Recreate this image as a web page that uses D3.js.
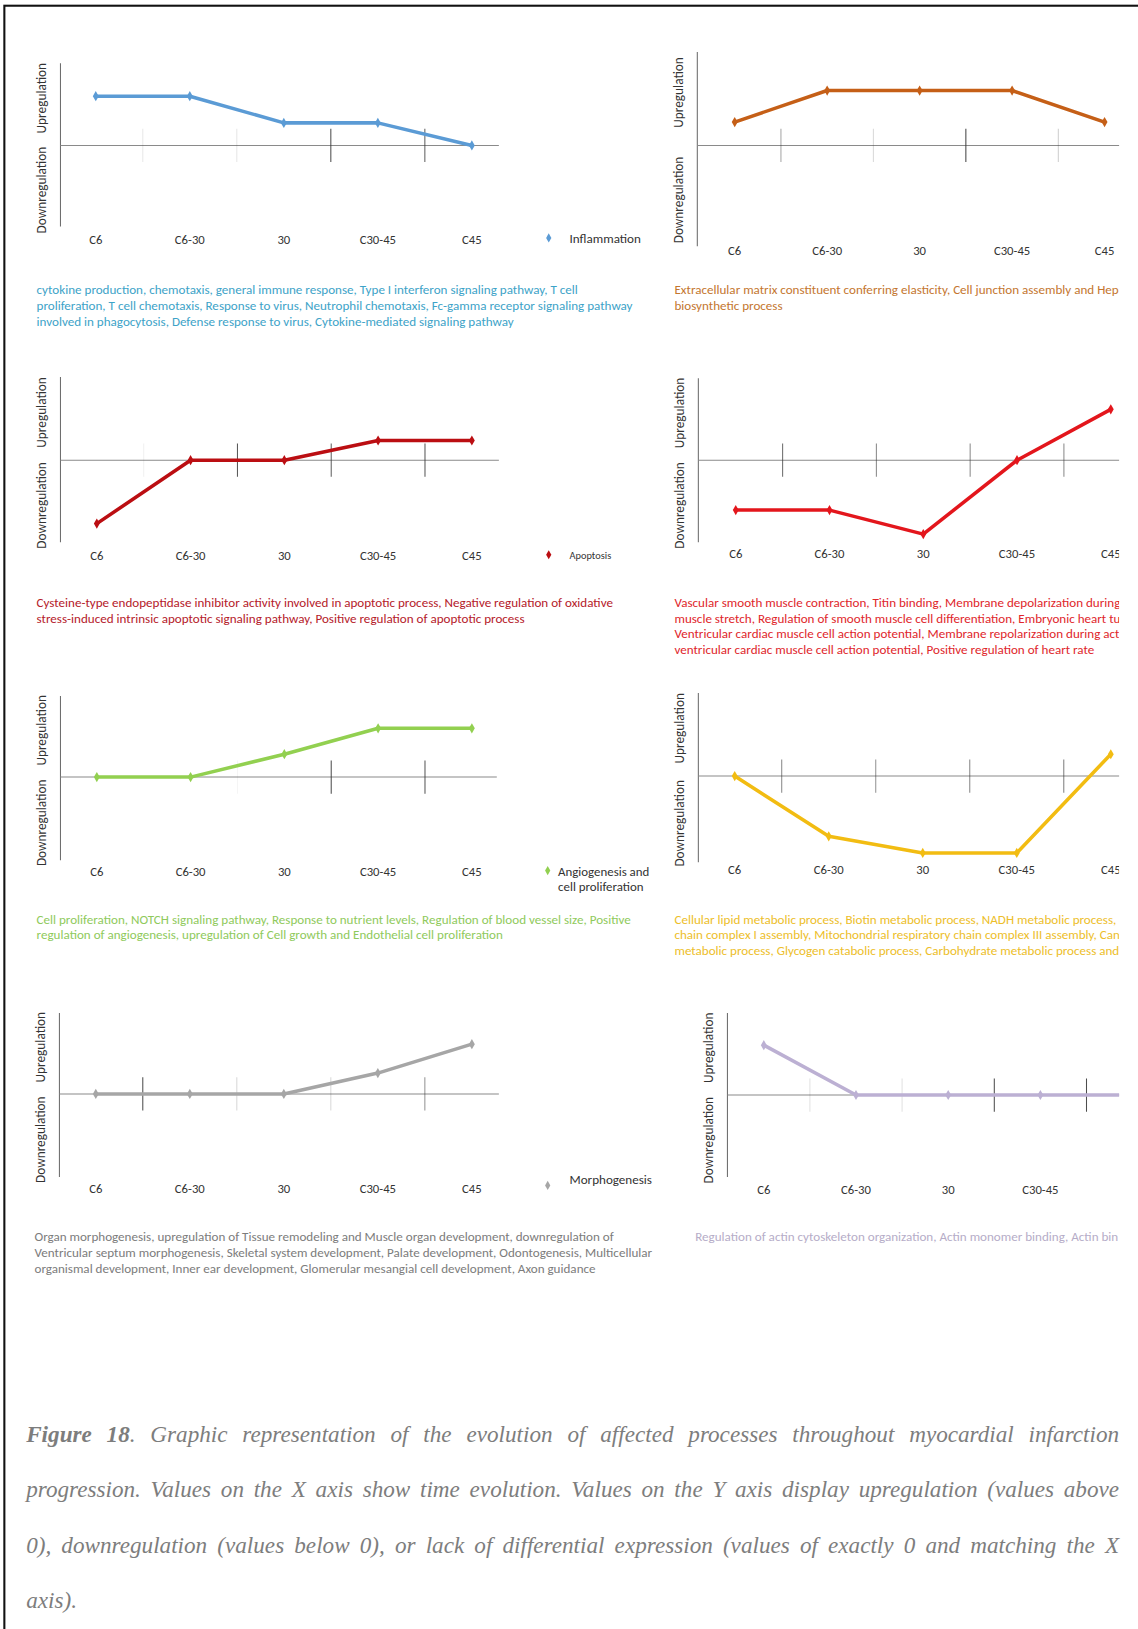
<!DOCTYPE html>
<html>
<head>
<meta charset="utf-8">
<script src="https://cdn.jsdelivr.net/npm/d3@7"></script>
<style>
  body { margin: 0; background: #fff; }
  svg { display: block; }
</style>
</head>
<body>
<svg id="fig"></svg>
<script>
// ---- data -------------------------------------------------------------
const categories = ["C6", "C6-30", "30", "C30-45", "C45"];

// relative regulation level per time point (positive = up, negative = down)
const inflammation  = [2.4, 2.4, 1.1, 1.1, 0];
const extracellular = [1.0, 2.35, 2.35, 2.35, 1.0];
const apoptosis     = [-3.05, 0, 0, 0.95, 0.95];
const cardiac       = [-2.43, -2.43, -3.6, 0, 2.48];
const angiogenesis  = [0, 0, 1.13, 2.41, 2.41];
const metabolism    = [0, -2.9, -3.7, -3.7, 1.05];
const morphogenesis = [0, 0, 0, 1.03, 2.46];
const cytoskeleton  = [2.43, 0, 0, 0, 0];

const legendInflammation  = ["Inflammation"];
const legendApoptosis     = ["Apoptosis"];
const legendAngiogenesis  = ["Angiogenesis and", "cell proliferation"];
const legendMorphogenesis = ["Morphogenesis"];

const yLabelUp = "Upregulation";
const yLabelDown = "Downregulation";

const descInflammation = [
  "cytokine production, chemotaxis, general immune response, Type I interferon signaling pathway, T cell",
  "proliferation, T cell chemotaxis, Response to virus, Neutrophil chemotaxis, Fc-gamma receptor signaling pathway",
  "involved in phagocytosis, Defense response to virus, Cytokine-mediated signaling pathway"
];
const descExtracellular = [
  "Extracellular matrix constituent conferring elasticity, Cell junction assembly and Hep",
  "biosynthetic process"
];
const descApoptosis = [
  "Cysteine-type endopeptidase inhibitor activity involved in apoptotic process, Negative regulation of oxidative",
  "stress-induced intrinsic apoptotic signaling pathway, Positive regulation of apoptotic process"
];
const descCardiac = [
  "Vascular smooth muscle contraction, Titin binding, Membrane depolarization during",
  "muscle stretch, Regulation of smooth muscle cell differentiation, Embryonic heart tu",
  "Ventricular cardiac muscle cell action potential, Membrane repolarization during act",
  "ventricular cardiac muscle cell action potential, Positive regulation of heart rate"
];
const descAngiogenesis = [
  "Cell proliferation, NOTCH signaling pathway, Response to nutrient levels, Regulation of blood vessel size, Positive",
  "regulation of angiogenesis, upregulation of Cell growth and Endothelial cell proliferation"
];
const descMetabolism = [
  "Cellular lipid metabolic process, Biotin metabolic process, NADH metabolic process,",
  "chain complex I assembly, Mitochondrial respiratory chain complex III assembly, Can",
  "metabolic process, Glycogen catabolic process, Carbohydrate metabolic process and"
];
const descMorphogenesis = [
  "Organ morphogenesis, upregulation of Tissue remodeling and Muscle organ development, downregulation of",
  "Ventricular septum morphogenesis, Skeletal system development, Palate development, Odontogenesis, Multicellular",
  "organismal development, Inner ear development, Glomerular mesangial cell development, Axon guidance"
];
const descCytoskeleton = [
  "Regulation of actin cytoskeleton organization, Actin monomer binding, Actin bin"
];

const captionLines = [
  "Figure 18. Graphic representation of the evolution of affected processes throughout myocardial infarction",
  "progression. Values on the X axis show time evolution. Values on the Y axis display upregulation (values above",
  "0), downregulation (values below 0), or lack of differential expression (values of exactly 0 and matching the X",
  "axis)."
];
const captionBoldWords = ["Figure", "18"];

// ---- layout (drawing units; the svg viewBox is 1095 x 1568) -------------
const W = 1095, H = 1568;
const CLIP_RIGHT = 1077;
const panels = [
  { values: inflammation, color: "#5b9bd5", text: "#3da3c8", side: "L",
    axisX: 58, top: 61, zero: 140, bottom: 218, x0: 92, x1: 454, zeroEnd: 480, labelY: 232,
    ticks: [0.12, 0.12, 0.9, 0.8], legend: legendInflammation, legendPos: [528, 229, 548, 12.6],
    desc: descInflammation, descX: 35, descY: 280 },
  { values: extracellular, color: "#c55f17", text: "#c4762f", side: "R",
    axisX: 671, top: 50, zero: 140, bottom: 237, x0: 707, x1: 1063, zeroEnd: 1090, labelY: 243,
    ticks: [0.45, 0.2, 0.95, 0.25], legend: null,
    desc: descExtracellular, descX: 649, descY: 280 },
  { values: apoptosis, color: "#bb0e12", text: "#b5202a", side: "L",
    axisX: 58, top: 363, zero: 443, bottom: 522, x0: 93, x1: 454, zeroEnd: 480, labelY: 536,
    ticks: [0.08, 0.85, 0.8, 0.85], legend: legendApoptosis, legendPos: [528, 534, 548, 10],
    desc: descApoptosis, descX: 35, descY: 581 },
  { values: cardiac, color: "#e3161c", text: "#e0262b", side: "R",
    axisX: 672, top: 364, zero: 443, bottom: 522, x0: 708, x1: 1069, zeroEnd: 1090, labelY: 534,
    ticks: [0.75, 0.6, 0.6, 0.6], legend: null,
    desc: descCardiac, descX: 649, descY: 581 },
  { values: angiogenesis, color: "#92d050", text: "#8fca5c", side: "L",
    axisX: 58, top: 670, zero: 748, bottom: 828, x0: 93, x1: 454, zeroEnd: 478, labelY: 840,
    ticks: [0.0, 0.05, 0.9, 0.85], legend: legendAngiogenesis, legendPos: [527, 838, 537, 12.4],
    desc: descAngiogenesis, descX: 35, descY: 886 },
  { values: metabolism, color: "#f2bc12", text: "#edbe2a", side: "R",
    axisX: 672, top: 667, zero: 747, bottom: 830, x0: 707, x1: 1069, zeroEnd: 1090, labelY: 838,
    ticks: [0.6, 0.55, 0.6, 0.65], legend: null,
    desc: descMetabolism, descX: 649, descY: 886 },
  { values: morphogenesis, color: "#a6a6a6", text: "#7c7c7c", side: "L",
    axisX: 57, top: 975, zero: 1053, bottom: 1133, x0: 92, x1: 454, zeroEnd: 480, labelY: 1145,
    ticks: [0.9, 0.2, 0.2, 0.55], legend: legendMorphogenesis, legendPos: [527, 1141, 548, 12.6],
    legendTextDy: -6,
    desc: descMorphogenesis, descX: 33, descY: 1192 },
  { values: cytoskeleton, color: "#bcb0d3", text: "#b6adc8", side: "R",
    axisX: 700, top: 975, zero: 1054, bottom: 1133, x0: 735, x1: 1090, zeroEnd: 1090, labelY: 1146,
    ticks: [0.15, 0.15, 0.9, 0.9], legend: null,
    desc: descCytoskeleton, descX: 669, descY: 1192 }
];

const sansFont = "Carlito, Lato, 'Open Sans', sans-serif";
const catSize = 12.2, titleSize = 12.8, descSize = 12.6;

const svg = d3.select("#fig")
  .attr("width", 1138).attr("height", 1629)
  .attr("viewBox", `0 0 ${W} ${H}`);

svg.append("rect").attr("width", W).attr("height", H).attr("fill", "#fff");

// page frame: only its top and left edges fall inside the page
svg.append("rect")
  .attr("x", 4).attr("y", 5.5).attr("width", 1300).attr("height", 1800)
  .attr("fill", "none").attr("stroke", "#111").attr("stroke-width", 2);

const defs = svg.append("defs");
defs.append("clipPath").attr("id", "clipRight")
  .append("rect").attr("x", 600).attr("y", 0).attr("width", CLIP_RIGHT - 600).attr("height", H);

panels.forEach(p => {
  const g = svg.append("g");
  if (p.side === "R") g.attr("clip-path", "url(#clipRight)");

  const x = d3.scalePoint().domain(categories).range([p.x0, p.x1]);
  const y = d3.scaleLinear().domain([-4, 4]).range([2 * p.zero - p.top, p.top]);
  const step = x.step();

  // value axis (no ticks)
  g.append("line")
    .attr("x1", p.axisX).attr("x2", p.axisX)
    .attr("y1", p.top).attr("y2", p.bottom)
    .attr("stroke", "#6a6a6a").attr("stroke-width", 1);

  // category axis through zero
  g.append("line")
    .attr("x1", p.axisX).attr("x2", p.zeroEnd)
    .attr("y1", y(0)).attr("y2", y(0))
    .attr("stroke", "#8a8a8a").attr("stroke-width", 1);

  // cross tick marks between categories
  g.selectAll("line.tick")
    .data(categories.slice(0, -1))
    .join("line")
    .attr("class", "tick")
    .attr("x1", d => x(d) + step / 2).attr("x2", d => x(d) + step / 2)
    .attr("y1", y(0) - 16).attr("y2", y(0) + 16)
    .attr("stroke", "#3a3a3a").attr("stroke-width", 1)
    .attr("stroke-opacity", (d, i) => p.ticks[i]);

  // category labels (those lying wholly past the page margin are not drawn)
  g.selectAll("text.cat")
    .data(categories.filter(c => x(c) - 10 < CLIP_RIGHT))
    .join("text")
    .attr("class", "cat")
    .attr("x", d => x(d)).attr("y", p.labelY)
    .attr("text-anchor", "middle").attr("dominant-baseline", "middle")
    .attr("font-family", sansFont).attr("font-size", catSize).attr("fill", "#333")
    .text(d => d);

  // axis titles
  const lx = p.axisX - 17;
  g.append("text")
    .attr("transform", `translate(${lx},${(p.top + p.zero) / 2 - 6}) rotate(-90)`)
    .attr("text-anchor", "middle").attr("dominant-baseline", "middle")
    .attr("font-family", sansFont).attr("font-size", titleSize).attr("fill", "#333")
    .text(yLabelUp);
  g.append("text")
    .attr("transform", `translate(${lx},${(p.zero + p.bottom) / 2 + 4}) rotate(-90)`)
    .attr("text-anchor", "middle").attr("dominant-baseline", "middle")
    .attr("font-family", sansFont).attr("font-size", titleSize).attr("fill", "#333")
    .text(yLabelDown);

  // series line and markers
  const pts = categories.map((c, i) => [c, p.values[i]]);
  g.append("path")
    .datum(pts)
    .attr("fill", "none").attr("stroke", p.color)
    .attr("stroke-width", 3.4).attr("stroke-linejoin", "round")
    .attr("d", d3.line().x(d => x(d[0])).y(d => y(d[1])));
  g.selectAll("path.mk")
    .data(pts)
    .join("path")
    .attr("class", "mk")
    .attr("transform", d => `translate(${x(d[0])},${y(d[1])})`)
    .attr("d", d3.symbol(d3.symbolDiamond, 28))
    .attr("fill", p.color);

  // legend
  if (p.legend) {
    const [mx, my, tx, fs] = p.legendPos;
    g.append("path")
      .attr("transform", `translate(${mx},${my})`)
      .attr("d", d3.symbol(d3.symbolDiamond, 22))
      .attr("fill", p.color);
    g.selectAll("text.leg")
      .data(p.legend)
      .join("text")
      .attr("class", "leg")
      .attr("x", tx).attr("y", (d, i) => my + (p.legendTextDy || 0) + 2 + i * 15)
      .attr("dominant-baseline", "middle")
      .attr("font-family", sansFont).attr("font-size", fs).attr("fill", "#333")
      .text(d => d);
  }

  // description of the processes
  g.selectAll("text.desc")
    .data(p.desc)
    .join("text")
    .attr("class", "desc")
    .attr("x", p.descX).attr("y", (d, i) => p.descY + i * 15.2)
    .attr("dominant-baseline", "middle")
    .attr("font-family", sansFont).attr("font-size", descSize).attr("fill", p.text)
    .text(d => d);
});

// ---- caption, justified between the margins ---------------------------
const capLeft = 25, capRight = 1077, capY0 = 1388, capDy = 53.3, capSize = 22.3;
const cap = svg.append("g")
  .attr("font-family", "'Liberation Serif', 'Times New Roman', serif")
  .attr("font-style", "italic").attr("font-size", capSize).attr("fill", "#7d7d7d");

captionLines.forEach((line, li) => {
  const words = line.split(" ");
  const yPos = capY0 + li * capDy;
  const nodes = words.map(w => {
    const t = cap.append("text").attr("y", yPos);
    const core = w.replace(/[.,]$/, "");
    if (li === 0 && captionBoldWords.includes(core)) {
      t.append("tspan").attr("font-weight", "bold").text(core);
      if (core !== w) t.append("tspan").text(w.slice(core.length));
    } else {
      t.text(w);
    }
    return t;
  });
  const widths = nodes.map(n => n.node().getComputedTextLength());
  const total = d3.sum(widths);
  const last = li === captionLines.length - 1;
  const spaceW = capSize * 0.25;
  const gap = last ? spaceW : (capRight - capLeft - total) / (words.length - 1);
  let cx = capLeft;
  nodes.forEach((n, i) => {
    n.attr("x", cx);
    cx += widths[i] + gap;
  });
});
</script>
</body>
</html>
